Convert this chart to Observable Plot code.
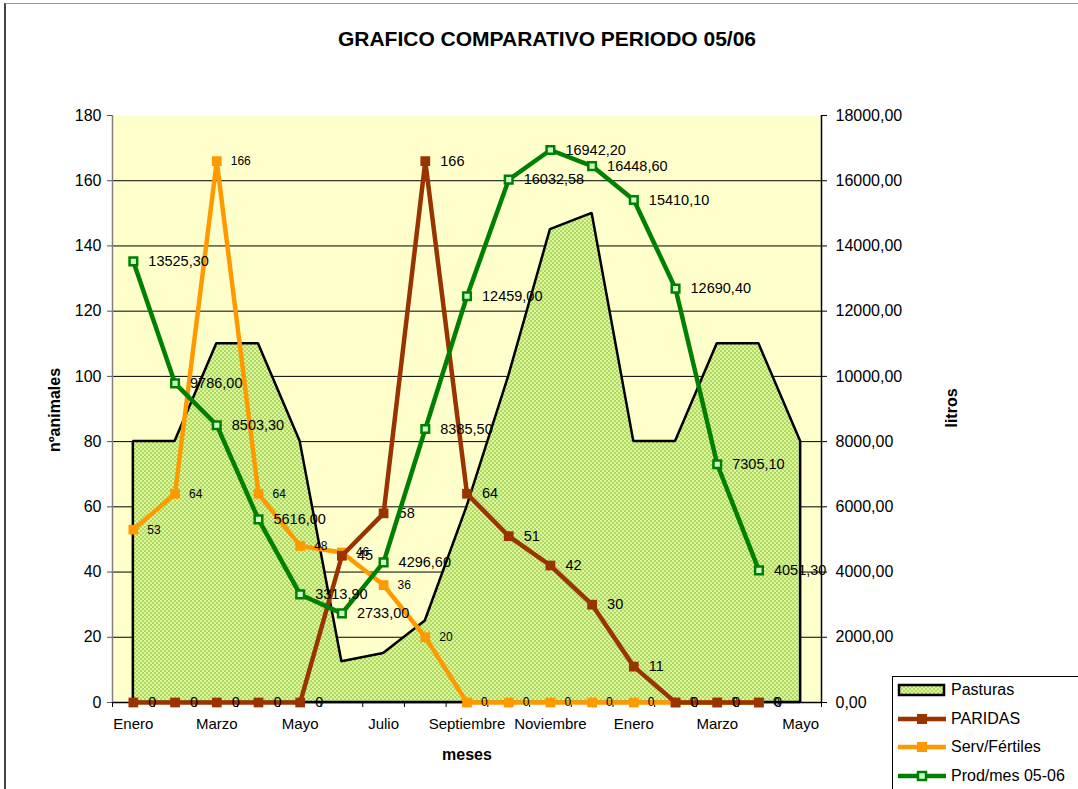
<!DOCTYPE html>
<html>
<head>
<meta charset="utf-8">
<script src="https://cdn.jsdelivr.net/npm/d3@7"></script>
<script src="https://cdn.jsdelivr.net/npm/@observablehq/plot@0.6"></script>
<style>
  body { margin: 0; background: #fff; font-family: "Liberation Sans", Arial, sans-serif; }
  #wrap { position: relative; width: 1078px; height: 789px; overflow: hidden; background: #fff; }
  #frame { position: absolute; left: 4px; top: 3px; width: 1100px; height: 820px; border-left: 2px solid #444; border-top: 1px solid #999; }
  #title { position: absolute; left: 0; width: 1094px; top: 27px; text-align: center; font-weight: bold; font-size: 21px; }
  .axlab { position: absolute; font-weight: bold; font-size: 16px; white-space: nowrap; }
  #legend { position: absolute; left: 892px; top: 676px; width: 220px; height: 140px; border: 1px solid #000; background: #fff; }
  .lrow { position: absolute; left: 4px; height: 24px; display: flex; align-items: center; font-size: 16px; white-space: nowrap; }
  .lrow svg { margin-right: 4px; }
  #plot { position: absolute; left: 0; top: 0; }
</style>
</head>
<body>
<div id="wrap">
  <div id="frame"></div>
  <div id="plot"></div>
  <div id="title">GRAFICO COMPARATIVO PERIODO 05/06</div>
  <div class="axlab" id="ylab" style="left:55px;top:410px;transform:translate(-50%,-50%) rotate(-90deg);">nºanimales</div>
  <div class="axlab" id="y2lab" style="left:952px;top:408px;transform:translate(-50%,-50%) rotate(-90deg);">litros</div>
  <div class="axlab" id="xlab" style="left:467px;top:755px;transform:translate(-50%,-50%);">meses</div>
  <div id="legend"></div>
</div>
<script>
// ---- data ----
const months = ["Enero","Febrero","Marzo","Abril","Mayo","Junio","Julio","Agosto","Septiembre","Octubre","Noviembre","Diciembre","Enero","Febrero","Marzo","Abril","Mayo"];
const tickMonths = [0, 2, 4, 6, 8, 10, 12, 14, 16];
const pasturas = [80, 80, 110, 110, 80, 12.5, 15, 25, 60, 100, 145, 150, 80, 80, 110, 110, 80];
const paridas = [0, 0, 0, 0, 0, 45, 58, 166, 64, 51, 42, 30, 11, 0, 0, 0];
const servFertiles = [53, 64, 166, 64, 48, 46, 36, 20, 0, 0, 0, 0, 0, 0, 0, 0];
const prodMes = [13525.30, 9786.00, 8503.30, 5616.00, 3313.90, 2733.00, 4296.60, 8385.50, 12459.00, 16032.58, 16942.20, 16448.60, 15410.10, 12690.40, 7305.10, 4051.30];
const leftTicks = [0, 20, 40, 60, 80, 100, 120, 140, 160, 180];
const litrosPerAnimal = 100; // right axis (0..18000) aligned with left (0..180)
const seriesNames = ["Pasturas", "PARIDAS", "Serv/Fértiles", "Prod/mes 05-06"];
const colors = { paridas: "#993300", serv: "#ff9900", prod: "#008000", prodFill: "#ccffcc", bg: "#ffffcc" };

const pData = pasturas.map((v, i) => ({ i, v }));
const parData = paridas.map((v, i) => ({ i, v }));
const servData = servFertiles.map((v, i) => ({ i, v }));
const prodData = prodMes.map((v, i) => ({ i, v }));
const fmt2 = v => v.toFixed(2).replace(".", ",");

const chart = Plot.plot({
  width: 1078,
  height: 789,
  marginLeft: 112,
  marginRight: 257,
  marginTop: 115,
  marginBottom: 87,
  style: { fontFamily: "'Liberation Sans', Arial, sans-serif", fontSize: "16px", color: "#000", background: "transparent" },
  x: { domain: [-0.5, months.length - 0.5] },
  y: { domain: [0, 180] },
  marks: [
    Plot.frame({ fill: colors.bg, stroke: "none" }),
    Plot.gridY({ ticks: leftTicks.slice(1, -1), stroke: "#000", strokeOpacity: 1, strokeWidth: 1 }),
    Plot.areaY(pData, { x: "i", y: "v", fill: "url(#pasto)", stroke: "#000", strokeWidth: 2.5, strokeLinejoin: "miter" }),
    Plot.ruleY([0], { stroke: "#000", strokeWidth: 1.5 }),
    Plot.ruleX([-0.5], { stroke: "#808080", strokeWidth: 1.5 }),
    Plot.ruleX([months.length - 0.5], { stroke: "#000", strokeWidth: 1.5 }),
    Plot.axisY({ anchor: "left", ticks: leftTicks, tickSize: 5, tickPadding: 6, fontSize: 16, label: null, stroke: "#555" }),
    Plot.axisY({ anchor: "right", ticks: leftTicks, tickSize: 5, tickPadding: 9, fontSize: 16, label: null, tickFormat: d => fmt2(d * litrosPerAnimal) }),
    Plot.axisX({ ticks: tickMonths, tickSize: 0, tickPadding: 16, fontSize: 15, label: null, tickFormat: i => months[i] }),
    Plot.axisX({ ticks: d3.range(-0.5, months.length, 1), tickSize: 5, tickFormat: () => "", label: null }),
    // Serv/Fértiles
    Plot.line(servData, { x: "i", y: "v", stroke: colors.serv, strokeWidth: 4.5 }),
    Plot.dot(servData, { x: "i", y: "v", symbol: "square", r: 5.5, fill: colors.serv, stroke: "none" }),
    Plot.text(servData, { x: "i", y: "v", text: d => String(d.v), dx: 14, textAnchor: "start", fontSize: 12, fill: "#000" }),
    // PARIDAS
    Plot.line(parData, { x: "i", y: "v", stroke: colors.paridas, strokeWidth: 4.5 }),
    Plot.dot(parData, { x: "i", y: "v", symbol: "square", r: 5.5, fill: colors.paridas, stroke: "none" }),
    Plot.text(parData, { x: "i", y: "v", text: d => String(d.v), dx: 15, textAnchor: "start", fontSize: 14.5, fill: "#000" }),
    // Prod/mes
    Plot.line(prodData, { x: "i", y: d => d.v / litrosPerAnimal, stroke: colors.prod, strokeWidth: 4.5 }),
    Plot.dot(prodData, { x: "i", y: d => d.v / litrosPerAnimal, symbol: "square", r: 4.3, fill: colors.prodFill, stroke: colors.prod, strokeWidth: 2.5 }),
    Plot.text(prodData, { x: "i", y: d => d.v / litrosPerAnimal, text: d => fmt2(d.v), dx: 15, textAnchor: "start", fontSize: 14.5, fill: "#000" })
  ]
});

// pattern for Pasturas
const NS = "http://www.w3.org/2000/svg";
function addPattern(svg, id) {
  const defs = document.createElementNS(NS, "defs");
  defs.innerHTML = `<pattern id="${id}" width="4" height="4" patternUnits="userSpaceOnUse">
    <rect width="4" height="4" fill="#b0da5e"/>
    <rect x="0" y="0" width="2" height="2" fill="#dcf5a0"/>
    <rect x="2" y="2" width="2" height="2" fill="#dcf5a0"/>
  </pattern>`;
  svg.insertBefore(defs, svg.firstChild);
}
addPattern(chart, "pasto");
document.getElementById("plot").appendChild(chart);

// legend
const legend = document.getElementById("legend");
const rowsTop = [1, 30, 58, 87];
const swatches = [
  `<svg width="50" height="16"><rect x="2" y="3" width="45" height="10" fill="url(#pasto)" stroke="#000" stroke-width="2.5"/></svg>`,
  `<svg width="50" height="16"><line x1="1" x2="49" y1="8" y2="8" stroke="${colors.paridas}" stroke-width="4.5"/><rect x="20" y="3" width="10" height="10" fill="${colors.paridas}"/></svg>`,
  `<svg width="50" height="16"><line x1="1" x2="49" y1="8" y2="8" stroke="${colors.serv}" stroke-width="4.5"/><rect x="20" y="3" width="10" height="10" fill="${colors.serv}"/></svg>`,
  `<svg width="50" height="16"><line x1="1" x2="49" y1="8" y2="8" stroke="${colors.prod}" stroke-width="4.5"/><rect x="21" y="4" width="8" height="8" fill="${colors.prodFill}" stroke="${colors.prod}" stroke-width="2.5"/></svg>`
];
seriesNames.forEach((name, k) => {
  const row = document.createElement("div");
  row.className = "lrow";
  row.style.top = rowsTop[k] + "px";
  row.innerHTML = swatches[k] + `<span>${name}</span>`;
  legend.appendChild(row);
});
</script>
</body>
</html>
